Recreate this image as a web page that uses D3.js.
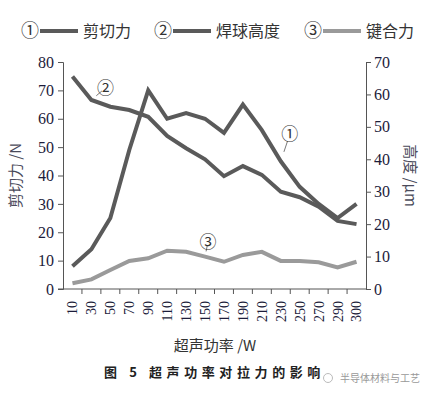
<!DOCTYPE html>
<html>
<head>
<meta charset="utf-8">
<script src="https://cdn.jsdelivr.net/npm/d3@7"></script>
<style>
  body { margin: 0; background: #fff; }
  text.cjk { font-family: "Noto Sans CJK SC", sans-serif; }
  .axis path, .axis line { stroke: #555; }
</style>
</head>
<body>
<div class="chart"></div>
<script>
// chart data
var powers = ["10", "30", "50", "70", "90", "110", "130", "150", "170", "190", "210", "230", "250", "270", "290", "300"];
var shearForce = [8, 14, 25, 49, 70, 60, 62, 60, 55, 65, 56, 45, 36, 30, 25, 30];
var ballHeight = [65.5, 58.3, 56.2, 55.2, 53.1, 47.2, 43.4, 40, 34.8, 37.9, 35.2, 30, 28.3, 25.4, 21, 20];
var bondForce = [2, 3.4, 6.7, 9.9, 10.8, 13.5, 13.1, 11.4, 9.6, 12, 13.1, 9.9, 9.9, 9.4, 7.6, 9.6];
var leftTicks = [0, 10, 20, 30, 40, 50, 60, 70, 80];
var rightTicks = [0, 10, 20, 30, 40, 50, 60, 70];

var serif = "'Liberation Serif', 'DejaVu Serif', serif";

var svgWidth = 432;
var svgHeight = 397;
var margin = { top: 62, right: 66, bottom: 108, left: 63 };
var width = svgWidth - margin.left - margin.right;
var height = svgHeight - margin.top - margin.bottom;

var svg = d3.select(".chart")
  .append("svg")
  .attr("width", svgWidth)
  .attr("height", svgHeight);

var chartGroup = svg.append("g")
  .attr("transform", `translate(${margin.left}, ${margin.top})`);

// scales
var xScale = d3.scaleBand().domain(powers).range([0, width]);
var yLeft = d3.scaleLinear().domain([0, 80]).range([height, 0]);
var yRight = d3.scaleLinear().domain([0, 70]).range([height, 0]);

// axes
var xAxis = chartGroup.append("g")
  .classed("axis", true)
  .attr("transform", `translate(0, ${height})`)
  .call(d3.axisBottom(xScale).tickSize(0).tickPadding(0));
xAxis.select(".domain").attr("d", `M-5,0H${width}`);
// tick marks on band edges
xAxis.selectAll(".edge")
  .data(powers.slice(1))
  .enter()
  .append("line")
  .attr("x1", d => xScale(d))
  .attr("x2", d => xScale(d))
  .attr("y1", 0)
  .attr("y2", 5)
  .attr("stroke", "#555");
xAxis.selectAll(".tick text")
  .attr("transform", "rotate(-90)")
  .attr("text-anchor", "end")
  .attr("x", -12)
  .attr("y", 0)
  .attr("dy", "0.35em")
  .attr("font-size", 14)
  .attr("fill", "#1c1c3a")
  .style("font-family", serif);

var leftAxis = chartGroup.append("g")
  .classed("axis", true)
  .call(d3.axisLeft(yLeft).tickValues(leftTicks).tickSizeOuter(0).tickSize(5).tickPadding(4));
leftAxis.selectAll("text").attr("font-size", 16).attr("fill", "#1c1c3a")
  .style("font-family", serif);

var rightAxis = chartGroup.append("g")
  .classed("axis", true)
  .attr("transform", `translate(${width}, 0)`)
  .call(d3.axisRight(yRight).tickValues(rightTicks).tickSizeOuter(0).tickSize(5).tickPadding(3));
rightAxis.selectAll("text").attr("font-size", 16).attr("fill", "#1c1c3a")
  .style("font-family", serif);

// lines
var xMid = d => xScale(d) + xScale.bandwidth() / 2;

function drawLine(values, yScale, color) {
  var line = d3.line()
    .x((d, i) => xMid(powers[i]))
    .y(d => yScale(d));
  chartGroup.append("path")
    .datum(values)
    .attr("fill", "none")
    .attr("stroke", color)
    .attr("stroke-width", 4)
    .attr("stroke-linejoin", "miter")
    .attr("d", line);
}
drawLine(ballHeight, yRight, "#5a5a5a");
drawLine(shearForce, yLeft, "#5a5a5a");
drawLine(bondForce, yLeft, "#9a9a9a");

// callout labels with leaders
function callout(label, idx, val, yScale, dx, dy) {
  var px = xMid(powers[idx]);
  var py = yScale(val);
  chartGroup.append("line")
    .attr("x1", px + dx * 0.35).attr("y1", py + dy * 0.35)
    .attr("x2", px + dx * 0.75).attr("y2", py + dy * 0.75)
    .attr("stroke", "#555").attr("stroke-width", 0.8);
  chartGroup.append("text")
    .attr("class", "cjk")
    .attr("x", px + dx)
    .attr("y", py + dy)
    .attr("text-anchor", "middle")
    .attr("dy", "0.35em")
    .attr("font-size", 17)
    .attr("fill", "#333")
    .text(label);
}
callout("①", 11, 45, yLeft, 9, -27);
callout("②", 1, 58.3, yRight, 14, -12);
callout("③", 7, 11.4, yLeft, 3, -15);

// axis titles
chartGroup.append("text")
  .attr("class", "cjk")
  .attr("transform", `translate(${-42}, ${height / 2}) rotate(-90)`)
  .attr("text-anchor", "middle")
  .attr("font-size", 15)
  .attr("fill", "#4a4a5a")
  .text("剪切力 /N");

chartGroup.append("text")
  .attr("class", "cjk")
  .attr("transform", `translate(${width + 39}, ${height / 2}) rotate(90)`)
  .attr("text-anchor", "middle")
  .attr("font-size", 15)
  .attr("fill", "#4a4a5a")
  .text("高度 /μm");

chartGroup.append("text")
  .attr("class", "cjk")
  .attr("x", 152)
  .attr("y", height + 62)
  .attr("text-anchor", "middle")
  .attr("font-size", 15)
  .attr("fill", "#333")
  .text("超声功率 /W");

// legend
var legendItems = [
  { num: "①", name: "剪切力", color: "#5a5a5a", x: 21 },
  { num: "②", name: "焊球高度", color: "#5a5a5a", x: 154 },
  { num: "③", name: "键合力", color: "#9a9a9a", x: 304 }
];
var legend = svg.append("g");
legendItems.forEach(function(item) {
  legend.append("text")
    .attr("class", "cjk")
    .attr("x", item.x).attr("y", 37)
    .attr("font-size", 18).attr("fill", "#333")
    .text(item.num);
  legend.append("line")
    .attr("x1", item.x + 19).attr("x2", item.x + 57)
    .attr("y1", 31).attr("y2", 31)
    .attr("stroke", item.color).attr("stroke-width", 4);
  legend.append("text")
    .attr("class", "cjk")
    .attr("x", item.x + 62).attr("y", 37)
    .attr("font-size", 16).attr("fill", "#333")
    .text(item.name);
});

// caption
svg.append("text")
  .attr("class", "cjk")
  .attr("x", 104).attr("y", 377)
  .attr("font-size", 13)
  .attr("font-weight", "bold")
  .attr("letter-spacing", 4.6)
  .attr("fill", "#222")
  .text("图 5 超声功率对拉力的影响");

// watermark
svg.append("circle").attr("cx", 328).attr("cy", 378).attr("r", 4.5)
  .attr("fill", "none").attr("stroke", "#bbb");
svg.append("text")
  .attr("class", "cjk")
  .attr("x", 340).attr("y", 382)
  .attr("font-size", 10)
  .attr("fill", "#999")
  .text("半导体材料与工艺");
</script>
</body>
</html>
